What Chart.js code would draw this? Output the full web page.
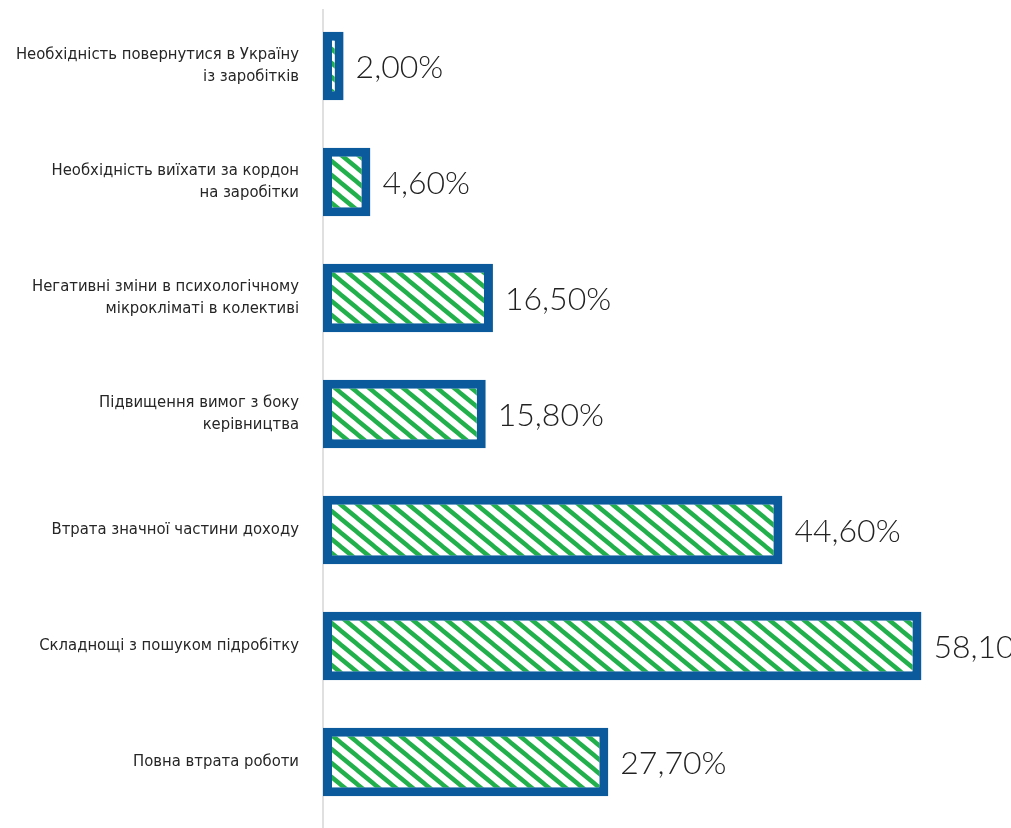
<!DOCTYPE html>
<html>

<head>
  <meta charset="utf-8">
  <title>Причини погіршення становища</title>
  <script src="https://cdn.jsdelivr.net/npm/chart.js"></script>
  <style>
    body { margin: 0; background: #fff; }
    canvas { display: block; }
  </style>
</head>

<body>
  <canvas id="reasonsChart" width="1011" height="828"></canvas>

  <script>
    // Category labels (multi-line ones are arrays) and percentages
    const reasons = [
      ['Необхідність повернутися в Україну', 'із заробітків'],
      ['Необхідність виїхати за кордон', 'на заробітки'],
      ['Негативні зміни в психологічному', 'мікрокліматі в колективі'],
      ['Підвищення вимог з боку', 'керівництва'],
      'Втрата значної частини доходу',
      'Складнощі з пошуком підробітку',
      'Повна втрата роботи'
    ];
    const shares = [2.0, 4.6, 16.5, 15.8, 44.6, 58.1, 27.7];

    // Green diagonal hatching used as the bar fill
    function makeHatch() {
      const w = 17, h = 14;
      const tile = document.createElement('canvas');
      tile.width = w;
      tile.height = h;
      const c = tile.getContext('2d');
      c.fillStyle = '#ffffff';
      c.fillRect(0, 0, w, h);
      c.strokeStyle = '#21b04b';
      c.lineWidth = 4.5;
      for (const x0 of [-w, 0, w]) {
        c.beginPath();
        c.moveTo(x0 - 2, -h * 2 / w);
        c.lineTo(x0 + w + 2, h + h * 2 / w);
        c.stroke();
      }
      return c.createPattern(tile, 'repeat');
    }

    // Thin grey baseline running down from the top of the plot
    const baseline = {
      id: 'baseline',
      beforeDatasetsDraw(chart) {
        const { ctx, chartArea } = chart;
        ctx.save();
        ctx.strokeStyle = '#d6d6d6';
        ctx.lineWidth = 1.5;
        ctx.beginPath();
        ctx.moveTo(chartArea.left, chartArea.top + 1);
        ctx.lineTo(chartArea.left, chart.height);
        ctx.stroke();
        ctx.restore();
      }
    };

    // Percent labels to the right of each bar
    const valueLabels = {
      id: 'valueLabels',
      afterDatasetsDraw(chart) {
        const { ctx } = chart;
        const meta = chart.getDatasetMeta(0);
        ctx.save();
        ctx.font = '300 32px Lato, "Open Sans", sans-serif';
        ctx.fillStyle = '#222222';
        ctx.textAlign = 'left';
        ctx.textBaseline = 'middle';
        meta.data.forEach((bar, i) => {
          const txt = shares[i].toFixed(2).replace('.', ',') + '%';
          ctx.fillText(txt, bar.x + 12, bar.y + 2);
        });
        ctx.restore();
      }
    };

    const ctx = document.getElementById('reasonsChart').getContext('2d');
    const reasonsChart = new Chart(ctx, {
      type: 'bar',
      data: {
        labels: reasons,
        datasets: [
          {
            data: shares,
            backgroundColor: makeHatch(),
            borderColor: '#0a5a9c',
            borderWidth: 9,
            borderSkipped: false,
            categoryPercentage: 1,
            barPercentage: 0.59
          }
        ]
      },
      options: {
        indexAxis: 'y',
        responsive: false,
        animation: false,
        layout: {
          padding: { top: 8, right: 70, bottom: 8, left: 0 }
        },
        plugins: {
          legend: { display: false },
          tooltip: { enabled: false }
        },
        scales: {
          x: {
            display: false,
            min: 0,
            max: 60
          },
          y: {
            border: { display: false },
            grid: { display: false, drawTicks: false },
            ticks: {
              color: '#262626',
              padding: 24,
              font: { family: '"DejaVu Sans Condensed", "DejaVu Sans", sans-serif', size: 16.5, lineHeight: 1.35 }
            },
            afterFit(axis) {
              axis.width = 323;
              axis.paddingTop = 0;
              axis.paddingBottom = 0;
            }
          }
        }
      },
      plugins: [baseline, valueLabels]
    });
  </script>
</body>

</html>
